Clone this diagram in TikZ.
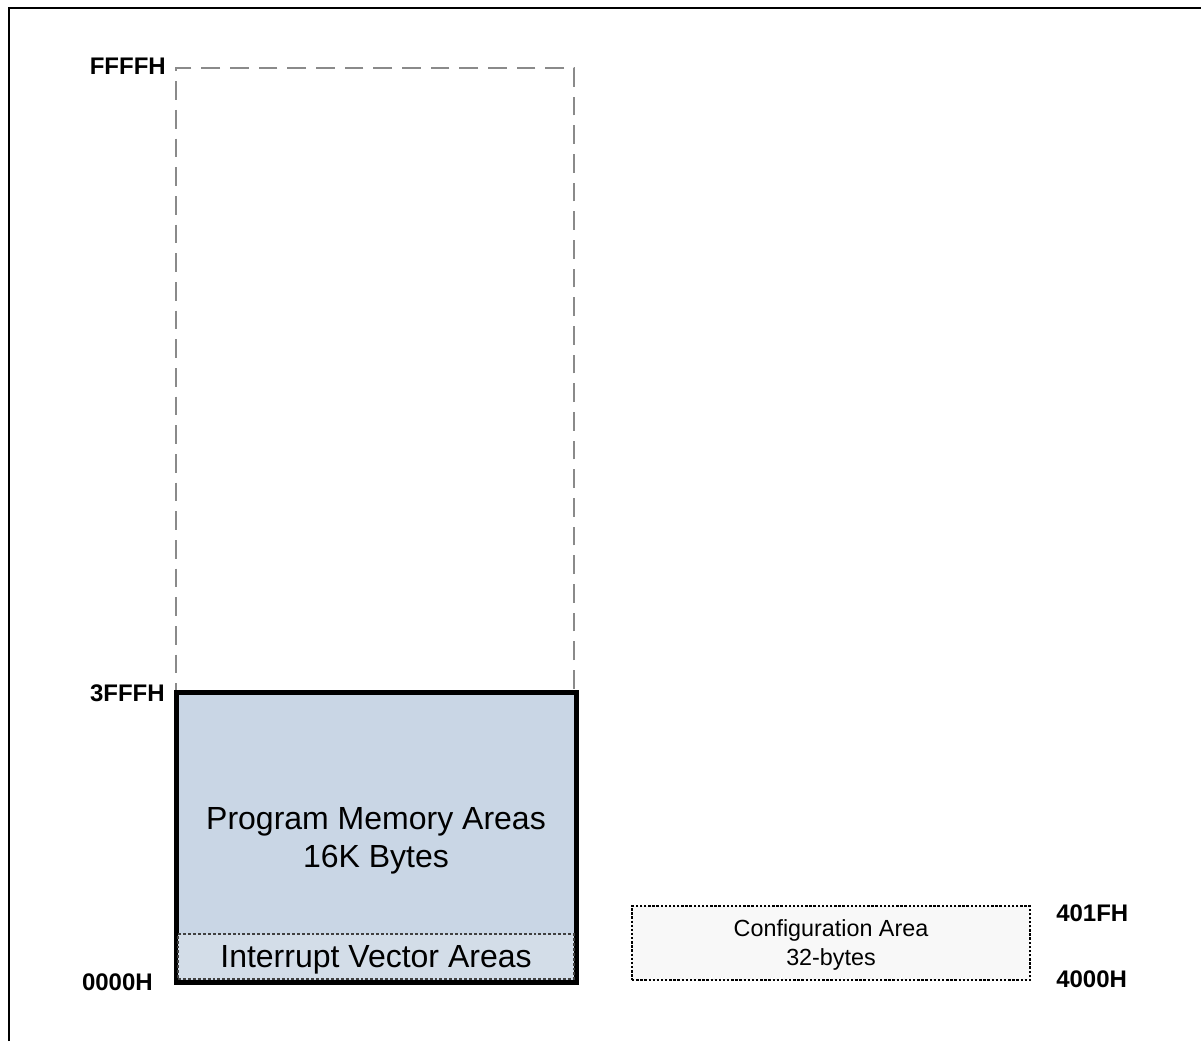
\documentclass[tikz,border=0pt]{standalone}
\usepackage{fontspec}
\setmainfont{Liberation Sans}
\usepackage{tikz}
\usetikzlibrary{calc}
\usetikzlibrary{shapes}

\definecolor{progfill}{HTML}{C9D6E5}
\definecolor{ivtfill}{HTML}{D3DDE8}
\definecolor{cfgfill}{HTML}{F8F8F8}
\definecolor{romgray}{HTML}{8A8A8A}

\begin{document}
\begin{tikzpicture}[x=0.75pt, y=-0.75pt,
        rom_style/.style={rectangle,draw=romgray,line width=1.5pt,dash pattern=on 14pt off 7.5pt,minimum width=298.5pt,minimum height=468pt,inner sep=0pt},
        prog_style/.style={rectangle,draw=black,fill=progfill,line width=3.75pt,minimum width=300pt,minimum height=217.5pt,inner sep=0pt,align=center,text height=51pt,font=\fontsize{24}{29}\selectfont},
        ivt_style/.style={rectangle,draw=black!75,fill=ivtfill,line width=1.5pt,dash pattern=on 2.2pt off 1.5pt,minimum width=297pt,minimum height=33.75pt,inner sep=0pt,text height=21.7pt,font=\fontsize{24}{29}\selectfont},
        cfg_style/.style={rectangle,draw=black,fill=cfgfill,line width=1.2pt,dash pattern=on 1.8pt off 1.3pt,minimum width=298.5pt,minimum height=55.5pt,inner sep=0pt,align=center,text height=36.9pt,font=\fontsize{17.5}{21.75}\selectfont},
        addr_style/.style={inner sep=0pt,font=\fontsize{18}{21}\selectfont\bfseries},
        frame_style/.style={draw=black,line width=2.2pt}]

        \useasboundingbox (0,0) rectangle (1201,1041);

        \draw [frame_style] (9,1041) -- (9,8) -- (1201,8);

        \node [rom_style] (rom) at (375,380) {};

        \node [prog_style] (prog) at (376,837) {Program Memory Areas\\16K Bytes};

        \node [ivt_style] (ivt) at (376,956.5) {Interrupt Vector Areas};

        \node [cfg_style] (cfg) at (831,943) {Configuration Area\\32-bytes};

        \node [addr_style, anchor=east] (a_ffff) at (166,66) {FFFFH};

        \node [addr_style, anchor=east] (a_3fff) at (165,693) {3FFFH};

        \node [addr_style, anchor=east] (a_0000) at (153,982) {0000H};

        \node [addr_style, anchor=west] (a_401f) at (1056,913) {401FH};

        \node [addr_style, anchor=west] (a_4000) at (1056,979) {4000H};

        \end{tikzpicture}
\end{document}
